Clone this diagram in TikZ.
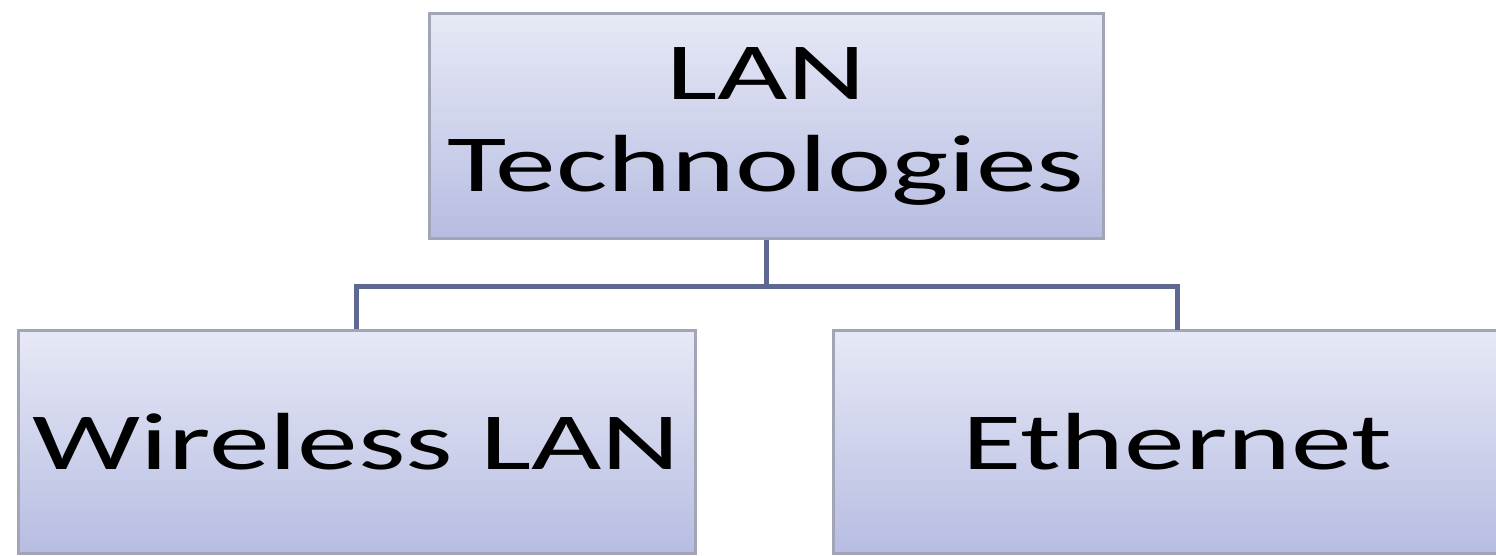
\documentclass[tikz,border=0pt]{standalone}
\usepackage{fontspec}
\setmainfont{Carlito}
\definecolor{boxtop}{HTML}{E7E9F6}
\definecolor{boxbot}{HTML}{B7BDE2}
\definecolor{boxrim}{HTML}{A2A5B6}
\definecolor{connc}{HTML}{5E6890}
\tikzset{
  unitbox/.style={rectangle, draw=boxrim, line width=3pt, top color=boxtop, bottom color=boxbot,
    inner sep=0pt, align=center, font=\fontsize{81}{92}\selectfont, text=black},
  rim/.style={draw=boxrim, line width=3pt},
  conn/.style={draw=connc, line width=5pt}
}
\newcommand{\wide}[1]{\scalebox{1.5}[1]{#1}}
\begin{document}
\begin{tikzpicture}[x=1pt,y=-1pt]
\useasboundingbox (0,0) rectangle (1496,556);
\clip (0,0) rectangle (1496,556);
\node[unitbox, minimum width=674pt, minimum height=225pt] (top) at (766,126)
  {\wide{LAN}\\\wide{Technologies}};
\node[unitbox, minimum width=677pt, minimum height=223pt] (wl) at (356.5,441.5)
  {\wide{Wireless LAN}};
\node[unitbox, draw=none, outer sep=0pt, minimum width=760pt, minimum height=223pt] (eth) at (1213,441.5)
  {\wide{Ethernet}\hspace*{72pt}};
\draw[rim] (eth.north east) -- (eth.north west) -- (eth.south west) -- (eth.south east);
\coordinate (junc) at ([yshift=-46pt]top.south);
\coordinate (ethtop) at (1177,330);
\draw[conn] (top.south) -- (junc);
\draw[conn] (junc) -| (wl.north);
\draw[conn] (junc) -| (ethtop);
\end{tikzpicture}
\end{document}
